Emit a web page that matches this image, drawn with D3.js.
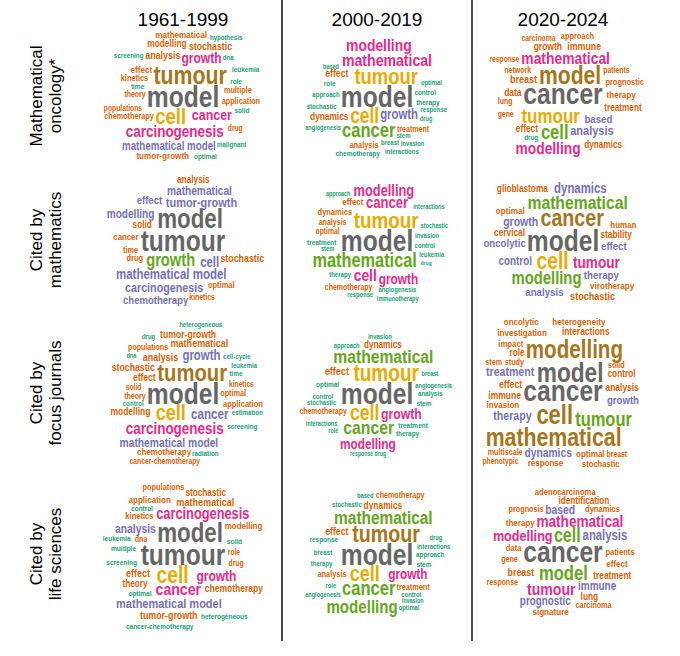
<!DOCTYPE html>
<html>
<head>
<meta charset="utf-8">
<script src="https://cdn.jsdelivr.net/npm/d3@7.9.0/dist/d3.min.js"></script>
<style>
  html, body { margin: 0; padding: 0; background: #fff; }
  svg { display: block; }
</style>
</head>
<body>
<svg id="chart" width="680" height="656"></svg>
<script>
// column / row headers
const periods = ["1961-1999", "2000-2019", "2020-2024"];
const sources = [
  ["Mathematical", "oncology*"],
  ["Cited by", "mathematics"],
  ["Cited by", "focus journals"],
  ["Cited by", "life sciences"]
];

// word frequencies, relative to the top word of each cloud (%)
const oncology1961 = [
  ["model", 100], ["tumour", 84], ["cell", 70], ["carcinogenesis", 46], ["cancer", 41],
  ["growth", 39], ["mathematical model", 28], ["analysis", 24], ["stochastic", 23],
  ["modelling", 21], ["tumor-growth", 20], ["effect", 20], ["mathematical", 20],
  ["kinetics", 16.5], ["chemotherapy", 16], ["application", 16], ["multiple", 16],
  ["theory", 14.5], ["populations", 13.5], ["drug", 13], ["time", 12.2],
  ["cancer-chemotherapy", 12], ["solid", 11.7], ["optimal", 11.7], ["role", 11.7],
  ["leukemia", 11.7], ["screening", 11.3], ["malignant", 10.9], ["dna", 10.5], ["hypothesis", 10.5]
];
const oncology2000 = [
  ["model", 100], ["tumour", 70], ["cell", 65], ["cancer", 61], ["mathematical", 49],
  ["modelling", 48], ["growth", 35.5], ["effect", 23], ["dynamics", 21], ["analysis", 16.5],
  ["treatment", 15], ["chemotherapy", 12.2], ["therapy", 12.1], ["control", 11.7], ["role", 11.7],
  ["breast", 10.1], ["approach", 10.1], ["stochastic", 10.1], ["stem", 9.7], ["interactions", 9.7],
  ["response", 9.7], ["optimal", 9.3], ["invasion", 8.5], ["angiogenesis", 7.7], ["drug", 7.7],
  ["based", 6.9]
];
const oncology2020 = [
  ["cancer", 100], ["model", 83], ["tumour", 63], ["cell", 61], ["mathematical", 48],
  ["modelling", 47.5], ["analysis", 34], ["based", 27.6], ["breast", 24.5], ["immune", 23.6],
  ["growth", 22], ["data", 21.6], ["effect", 21], ["dynamics", 20.6], ["treatment", 20.4],
  ["therapy", 20], ["prognostic", 17], ["approach", 16.5], ["network", 15], ["lung", 14.5],
  ["patients", 14], ["gene", 14], ["carcinoma", 13.7], ["response", 13.3], ["drug", 11.3]
];
const mathematics1961 = [
  ["tumour", 100], ["model", 89], ["growth", 52], ["mathematical model", 36.5], ["cell", 36],
  ["tumor-growth", 34], ["carcinogenesis", 32.8], ["mathematical", 30], ["modelling", 29.6],
  ["chemotherapy", 27], ["effect", 26.7], ["stochastic", 23.6], ["analysis", 20.8], ["solid", 20.8],
  ["cancer", 18.4], ["cancer-chemotherapy", 17.7], ["drug", 17], ["optimal", 17], ["time", 16],
  ["kinetics", 14]
];
const mathematics2000 = [
  ["model", 100], ["tumour", 72], ["mathematical", 60], ["cell", 48], ["cancer", 44],
  ["modelling", 43], ["growth", 38], ["effect", 19], ["dynamics", 17], ["analysis", 15],
  ["chemotherapy", 14.5], ["optimal", 13.5], ["treatment", 12], ["control", 10], ["therapy", 10],
  ["invasion", 9.5], ["angiogenesis", 9.3], ["response", 9], ["leukemia", 9], ["stem", 8.5],
  ["stochastic", 7.7], ["immunotherapy", 7.7], ["interactions", 7.5], ["approach", 7], ["drug", 5.5]
];
const mathematics2020 = [
  ["model", 100], ["cancer", 76], ["cell", 74], ["mathematical", 56.8], ["modelling", 52.6],
  ["tumour", 46.4], ["dynamics", 36], ["growth", 31.7], ["control", 28.5], ["therapy", 27.7],
  ["analysis", 27.7], ["oncolytic", 27.4], ["effect", 27], ["stochastic", 24.8], ["stability", 21],
  ["cervical", 21], ["glioblastoma", 20.8], ["virotherapy", 20], ["optimal", 20], ["human", 19]
];
const focus1961 = [
  ["model", 100], ["tumour", 79], ["cell", 68], ["carcinogenesis", 46], ["cancer", 37],
  ["growth", 36], ["mathematical model", 30.5], ["mathematical", 24.5], ["analysis", 24.4],
  ["stochastic", 23], ["tumor-growth", 22.5], ["effect", 22], ["modelling", 21.7],
  ["chemotherapy", 19], ["application", 17.5], ["optimal", 16], ["populations", 15], ["theory", 15],
  ["cancer-chemotherapy", 13.7], ["solid", 13.3], ["kinetics", 13], ["time", 12], ["screening", 11.5],
  ["radiation", 11.3], ["control", 10.8], ["estimation", 10.8], ["cell-cycle", 10.5],
  ["heterogeneous", 10], ["leukemia", 9.8], ["drug", 9.8], ["dna", 8]
];
const focus2000 = [
  ["model", 100], ["tumour", 73], ["cell", 66], ["cancer", 57], ["mathematical", 56.7],
  ["growth", 40], ["modelling", 38], ["effect", 24.8], ["dynamics", 20.4], ["chemotherapy", 14.3],
  ["treatment", 12.3], ["optimal", 12.2], ["therapy", 12], ["stem", 11.9], ["analysis", 10.9],
  ["control", 10.7], ["invasion", 9.7], ["stochastic", 9.3], ["angiogenesis", 8.5], ["approach", 8.5],
  ["interactions", 7.7], ["breast", 7.6], ["role", 7], ["response", 6], ["drug", 6]
];
const focus2020 = [
  ["cancer", 100], ["model", 90.6], ["cell", 87], ["mathematical", 83.8], ["modelling", 80.6],
  ["tumour", 60.5], ["treatment", 32], ["therapy", 32], ["dynamics", 30.5], ["growth", 27.3],
  ["effect", 23], ["immune", 22], ["analysis", 21.6], ["interactions", 21.5], ["control", 21],
  ["role", 20.4], ["heterogeneity", 20], ["optimal", 19.7], ["invasion", 19.7], ["investigation", 19.6],
  ["response", 19.6], ["oncolytic", 19.3], ["impact", 18.4], ["stochastic", 17.6], ["study", 15.8],
  ["solid", 15.4], ["stem", 15.4], ["multiscale", 15.3], ["breast", 14], ["phenotypic", 13.4]
];
const life1961 = [
  ["tumour", 100], ["model", 89], ["cell", 74], ["cancer", 49], ["carcinogenesis", 42.8],
  ["growth", 39], ["mathematical model", 34], ["analysis", 31], ["mathematical", 24.8],
  ["effect", 24.5], ["tumor-growth", 23.7], ["chemotherapy", 22], ["theory", 20.9],
  ["stochastic", 20.6], ["application", 19.6], ["modelling", 19.4], ["kinetics", 17.3],
  ["populations", 16.5], ["dna", 15.3], ["drug", 13.5], ["role", 13], ["multiple", 12.4],
  ["solid", 12.4], ["screening", 12.3], ["cancer-chemotherapy", 12.3], ["heterogeneous", 12.3],
  ["leukemia", 12.2], ["optimal", 12.2], ["control", 11.7]
];
const life2000 = [
  ["model", 100], ["tumour", 76], ["cell", 68], ["cancer", 61], ["mathematical", 55.5],
  ["modelling", 54], ["growth", 38], ["effect", 23], ["dynamics", 21.4], ["analysis", 16.7],
  ["treatment", 16], ["chemotherapy", 15.3], ["response", 12], ["stem", 11.9], ["approach", 11.3],
  ["breast", 10.8], ["stochastic", 10], ["therapy", 9.8], ["interactions", 9.3], ["control", 9.3],
  ["role", 9], ["optimal", 8.9], ["drug", 8.5], ["based", 8.5], ["angiogenesis", 7.7], ["invasion", 7]
];
const life2020 = [
  ["cancer", 100], ["model", 61.4], ["cell", 58], ["tumour", 49], ["mathematical", 46.6],
  ["modelling", 42], ["analysis", 35.6], ["based", 31], ["immune", 29], ["prognostic", 28.5],
  ["breast", 23.7], ["treatment", 21.3], ["lung", 21.3], ["identification", 20.4], ["signature", 20],
  ["therapy", 19.6], ["effect", 19.4], ["adenocarcinoma", 17.9], ["patients", 17.7], ["data", 17.6],
  ["dynamics", 17.5], ["prognosis", 16], ["carcinoma", 15.6], ["gene", 15.3], ["response", 15.2]
];

const clouds = [
  [oncology1961, oncology2000, oncology2020],
  [mathematics1961, mathematics2000, mathematics2020],
  [focus1961, focus2000, focus2020],
  [life1961, life2000, life2020]
];

// ---- layout constants
const colCenters = [183, 377, 563];
const rowCenters = [96, 240, 393, 554];
const rowHalfH = [66, 66, 76, 78];   // vertical room of each row of clouds
const halfW = 82;                     // horizontal room of each cloud
const dividers = [282, 472];
const padY = 1.2, padX = 1;
const turnStep = 0.1, radiusPerTurn = 8; // spiral, in px

// size and colour both follow relative frequency (wordcloud-style)
const sizeScale = d3.scaleLinear().domain([0, 100]).range([4.86, 30]);
const colorScale = d3.scaleQuantize().domain([0, 100]).range(d3.schemeDark2);

// font handling: prefer a narrow bold face, otherwise squeeze the regular one
const ctx = document.createElement("canvas").getContext("2d");
function hasFont(name) {
  const probe = "mmmmwwwiiilll 0123";
  ctx.font = "bold 40px monospace";
  const base = ctx.measureText(probe).width;
  ctx.font = `bold 40px "${name}", monospace`;
  return ctx.measureText(probe).width !== base;
}
const narrow = hasFont("Liberation Sans Narrow");
const wordFont = narrow ? '"Liberation Sans Narrow", sans-serif' : '"Liberation Sans", Arial, sans-serif';
const squeeze = narrow ? 1 : 0.82;

function textWidth(t, size) {
  ctx.font = `bold ${size}px ${wordFont}`;
  return ctx.measureText(t).width * squeeze;
}

// spiral placement, biggest word first, as in R's wordcloud(); offsets in px from the cloud centre
function layoutCloud(words, halfH) {
  const sorted = words.slice().sort((a, b) => b[1] - a[1]);
  const boxes = [];
  const out = [];
  const overlaps = (x, y, w, h) => boxes.some(b =>
    (x < b[0] ? x + w > b[0] : b[0] + b[2] > x) &&
    (y < b[1] ? y + h > b[1] : b[1] + b[3] > y));

  sorted.forEach(([text, v], i) => {
    const size = sizeScale(v);
    const w = textWidth(text, size) + padX;
    let h = 0.7 * size;
    if (/[gjpqy]/.test(text)) h *= 1.18;
    h += padY;
    let r = 0, theta = (i * 2.39996) % (2 * Math.PI);
    let x = 0, y = 0;
    while (true) {
      const bx = x - w / 2, by = y - h / 2;
      if (!overlaps(bx, by, w, h) && bx > -halfW && by > -halfH && bx + w < halfW && by + h < halfH) {
        boxes.push([bx, by, w, h]);
        out.push({ text, v, size, x, y });
        break;
      }
      if (r > 130) break;
      theta += turnStep;
      r += radiusPerTurn * turnStep / (2 * Math.PI);
      x = r * Math.cos(theta);
      y = -r * Math.sin(theta);
    }
  });
  return out;
}

const svg = d3.select("#chart");
svg.append("rect").attr("width", 680).attr("height", 656).attr("fill", "#fff");

// dividers
svg.append("g").selectAll("line")
  .data(dividers)
  .join("line")
  .attr("x1", d => d).attr("x2", d => d)
  .attr("y1", 0).attr("y2", 641)
  .attr("stroke", "#000").attr("stroke-width", 1.4);

// column titles
svg.append("g").selectAll("text")
  .data(periods)
  .join("text")
  .attr("x", (d, i) => colCenters[i])
  .attr("y", 26)
  .attr("text-anchor", "middle")
  .attr("font-family", '"Liberation Sans", Arial, sans-serif')
  .attr("font-size", 19)
  .attr("fill", "#000")
  .text(d => d);

// row labels
const rowLab = svg.append("g").selectAll("g")
  .data(sources)
  .join("g")
  .attr("transform", (d, i) => `translate(0,${rowCenters[i]}) rotate(-90)`);
rowLab.selectAll("text")
  .data(d => d)
  .join("text")
  .attr("x", 0)
  .attr("y", (d, j) => 42 + j * 19)
  .attr("text-anchor", "middle")
  .attr("font-family", '"Liberation Sans", Arial, sans-serif')
  .attr("font-size", 17)
  .attr("fill", "#000")
  .text(d => d);

// clouds
clouds.forEach((row, ri) => {
  row.forEach((words, ci) => {
    const cx = colCenters[ci], cy = rowCenters[ri];
    const placed = layoutCloud(words, rowHalfH[ri]);
    svg.append("g")
      .attr("class", "cloud")
      .selectAll("text")
      .data(placed)
      .join("text")
      .attr("transform", d => {
        const asc = /[bdfhiklt]/.test(d.text) ? 0.716 : 0.519;
        const px = cx + d.x;
        const py = cy + d.y + 0.5 * asc * d.size;
        return `translate(${px.toFixed(2)},${py.toFixed(2)}) scale(${squeeze},1)`;
      })
      .attr("text-anchor", "middle")
      .attr("font-family", wordFont)
      .attr("font-weight", "bold")
      .attr("font-size", d => d.size.toFixed(2))
      .attr("fill", d => colorScale(d.v))
      .text(d => d.text);
  });
});
</script>
</body>
</html>
